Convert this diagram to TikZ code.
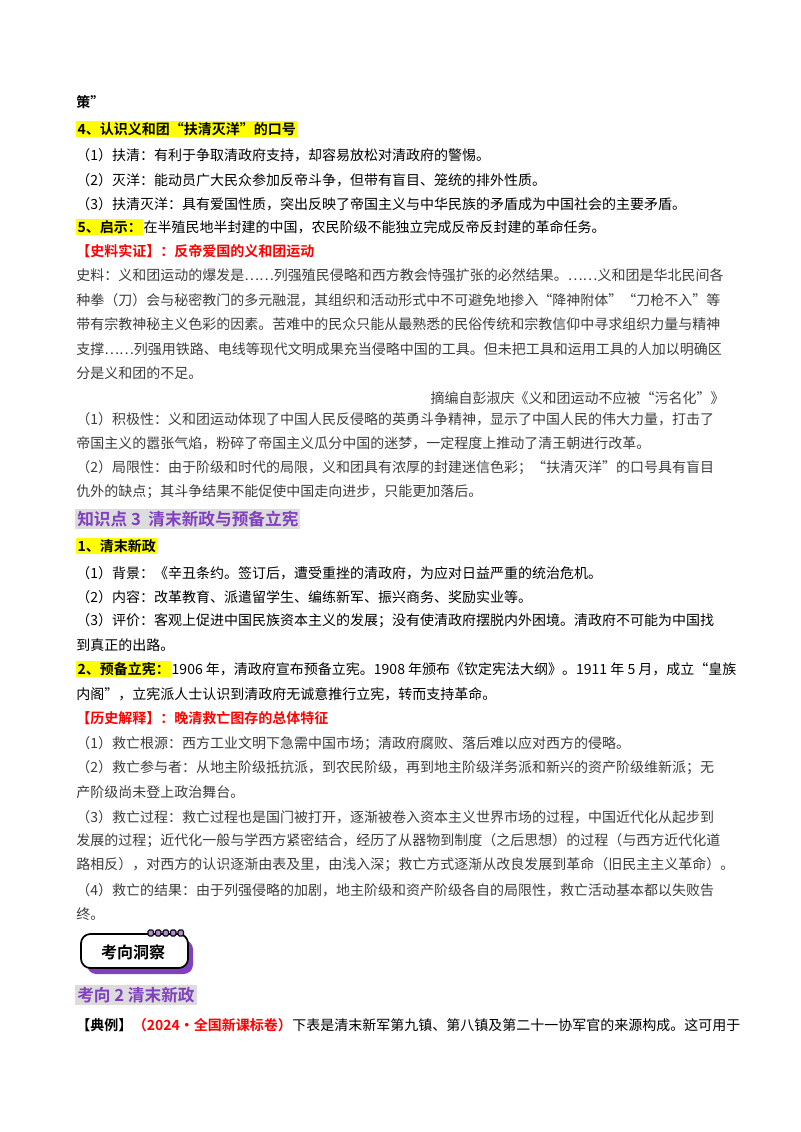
\documentclass[tikz,border=0pt]{standalone}
\usepackage{fontspec}
\setmainfont{Noto Sans CJK SC}[BoldFont={Noto Sans CJK SC Bold}]
\definecolor{hl}{RGB}{255,255,0}
\definecolor{pur}{RGB}{128,64,192}
\definecolor{gbg}{RGB}{220,220,220}
\definecolor{txtg}{RGB}{60,60,60}
\begin{document}
\begin{tikzpicture}[x=0.75pt,y=-0.75pt,
  L/.style={anchor=west,inner sep=0pt,font=\fontsize{10.5}{12}\selectfont},
  G/.style={L,text=txtg},
  B/.style={L,font=\fontsize{10.5}{12}\selectfont\bfseries},
  R/.style={B,text=red},
  H/.style={B,fill=hl,inner sep=1pt},
  P/.style={anchor=west,inner sep=1.5pt,fill=gbg,text=pur,font=\fontsize{12.5}{14}\selectfont\bfseries}]
\useasboundingbox (0,0) rectangle (800,1132);
\node[B] (l0) at (76,102) {策”};
\node[H] (l1) at (76,129) {4、认识义和团“扶清灭洋”的口号};
\node[L] (l2) at (76,155) {（1）扶清：有利于争取清政府支持，却容易放松对清政府的警惕。};
\node[L] (l3) at (76,180) {（2）灭洋：能动员广大民众参加反帝斗争，但带有盲目、笼统的排外性质。};
\node[L] (l4) at (76,204) {（3）扶清灭洋：具有爱国性质，突出反映了帝国主义与中华民族的矛盾成为中国社会的主要矛盾。};
\node[H] (l5) at (76,227) {5、启示：};
\node[L,anchor=west] (l5b) at (l5.east) {在半殖民地半封建的中国，农民阶级不能独立完成反帝反封建的革命任务。};
\node[R] (l6) at (76,251) {【史料实证】：反帝爱国的义和团运动};
\node[G] (l7) at (76,275) {史料：义和团运动的爆发是……列强殖民侵略和西方教会恃强扩张的必然结果。……义和团是华北民间各};
\node[G] (l8) at (76,300) {种拳（刀）会与秘密教门的多元融混，其组织和活动形式中不可避免地掺入“降神附体”“刀枪不入”等};
\node[G] (l9) at (76,324) {带有宗教神秘主义色彩的因素。苦难中的民众只能从最熟悉的民俗传统和宗教信仰中寻求组织力量与精神};
\node[G] (l10) at (76,349) {支撑……列强用铁路、电线等现代文明成果充当侵略中国的工具。但未把工具和运用工具的人加以明确区};
\node[G] (l11) at (76,373) {分是义和团的不足。};
\node[G,anchor=east] (l12) at (725,398) {摘编自彭淑庆《义和团运动不应被“污名化”》};
\node[G] (l13) at (76,419) {（1）积极性：义和团运动体现了中国人民反侵略的英勇斗争精神，显示了中国人民的伟大力量，打击了};
\node[G] (l14) at (76,443) {帝国主义的嚣张气焰，粉碎了帝国主义瓜分中国的迷梦，一定程度上推动了清王朝进行改革。};
\node[G] (l15) at (76,468) {（2）局限性：由于阶级和时代的局限，义和团具有浓厚的封建迷信色彩；“扶清灭洋”的口号具有盲目};
\node[G] (l16) at (76,492) {仇外的缺点；其斗争结果不能促使中国走向进步，只能更加落后。};
\node[P] (l17) at (75,519) {知识点 3 \ 清末新政与预备立宪};
\node[H] (l18) at (76,546) {1、清末新政};
\node[L] (l19) at (76,573) {（1）背景：《辛丑条约。签订后，遭受重挫的清政府，为应对日益严重的统治危机。};
\node[L] (l20) at (76,597) {（2）内容：改革教育、派遣留学生、编练新军、振兴商务、奖励实业等。};
\node[L] (l21) at (76,621) {（3）评价：客观上促进中国民族资本主义的发展；没有使清政府摆脱内外困境。清政府不可能为中国找};
\node[L] (l22) at (76,645) {到真正的出路。};
\node[H] (l23) at (76,669) {2、预备立宪：};
\node[L,anchor=west] (l23b) at (l23.east) {1906 年，清政府宣布预备立宪。1908 年颁布《钦定宪法大纲》。1911 年 5 月，成立“皇族};
\node[L] (l24) at (76,694) {内阁”，立宪派人士认识到清政府无诚意推行立宪，转而支持革命。};
\node[R] (l25) at (76,718) {【历史解释】：晚清救亡图存的总体特征};
\node[G] (l26) at (76,744) {（1）救亡根源：西方工业文明下急需中国市场；清政府腐败、落后难以应对西方的侵略。};
\node[G] (l27) at (76,768) {（2）救亡参与者：从地主阶级抵抗派，到农民阶级，再到地主阶级洋务派和新兴的资产阶级维新派；无};
\node[G] (l28) at (76,792) {产阶级尚未登上政治舞台。};
\node[G] (l29) at (76,817) {（3）救亡过程：救亡过程也是国门被打开，逐渐被卷入资本主义世界市场的过程，中国近代化从起步到};
\node[G] (l30) at (76,841) {发展的过程；近代化一般与学西方紧密结合，经历了从器物到制度（之后思想）的过程（与西方近代化道};
\node[G] (l31) at (76,865) {路相反），对西方的认识逐渐由表及里，由浅入深；救亡方式逐渐从改良发展到革命（旧民主主义革命）。};
\node[G] (l32) at (76,890) {（4）救亡的结果：由于列强侵略的加剧，地主阶级和资产阶级各自的局限性，救亡活动基本都以失败告};
\node[G] (l33) at (76,914) {终。};
% badge
\fill[pur,rounded corners=7] (87,940) rectangle (193,974);
\draw[black,line width=1.3pt,fill=white,rounded corners=7] (81,934) rectangle (188,968);
\foreach \i in {0,1,2,3,4} \draw[black,fill=pur!60,line width=0.8pt,rounded corners=1] (148+\i*7.5,930) rectangle (153.5+\i*7.5,936);
\node[inner sep=0pt,font=\fontsize{12}{14}\selectfont\bfseries] (bd) at (133,952) {考向洞察};
\node[P] (l34) at (75,995) {考向 2 清末新政};
\node[B] (l35) at (76,1025) {【典例】};
\node[R,anchor=west] (l35b) at (l35.east) {（2024·全国新课标卷）};
\node[L,anchor=west] (l35c) at (l35b.east) {下表是清末新军第九镇、第八镇及第二十一协军官的来源构成。这可用于};
\end{tikzpicture}
\end{document}
